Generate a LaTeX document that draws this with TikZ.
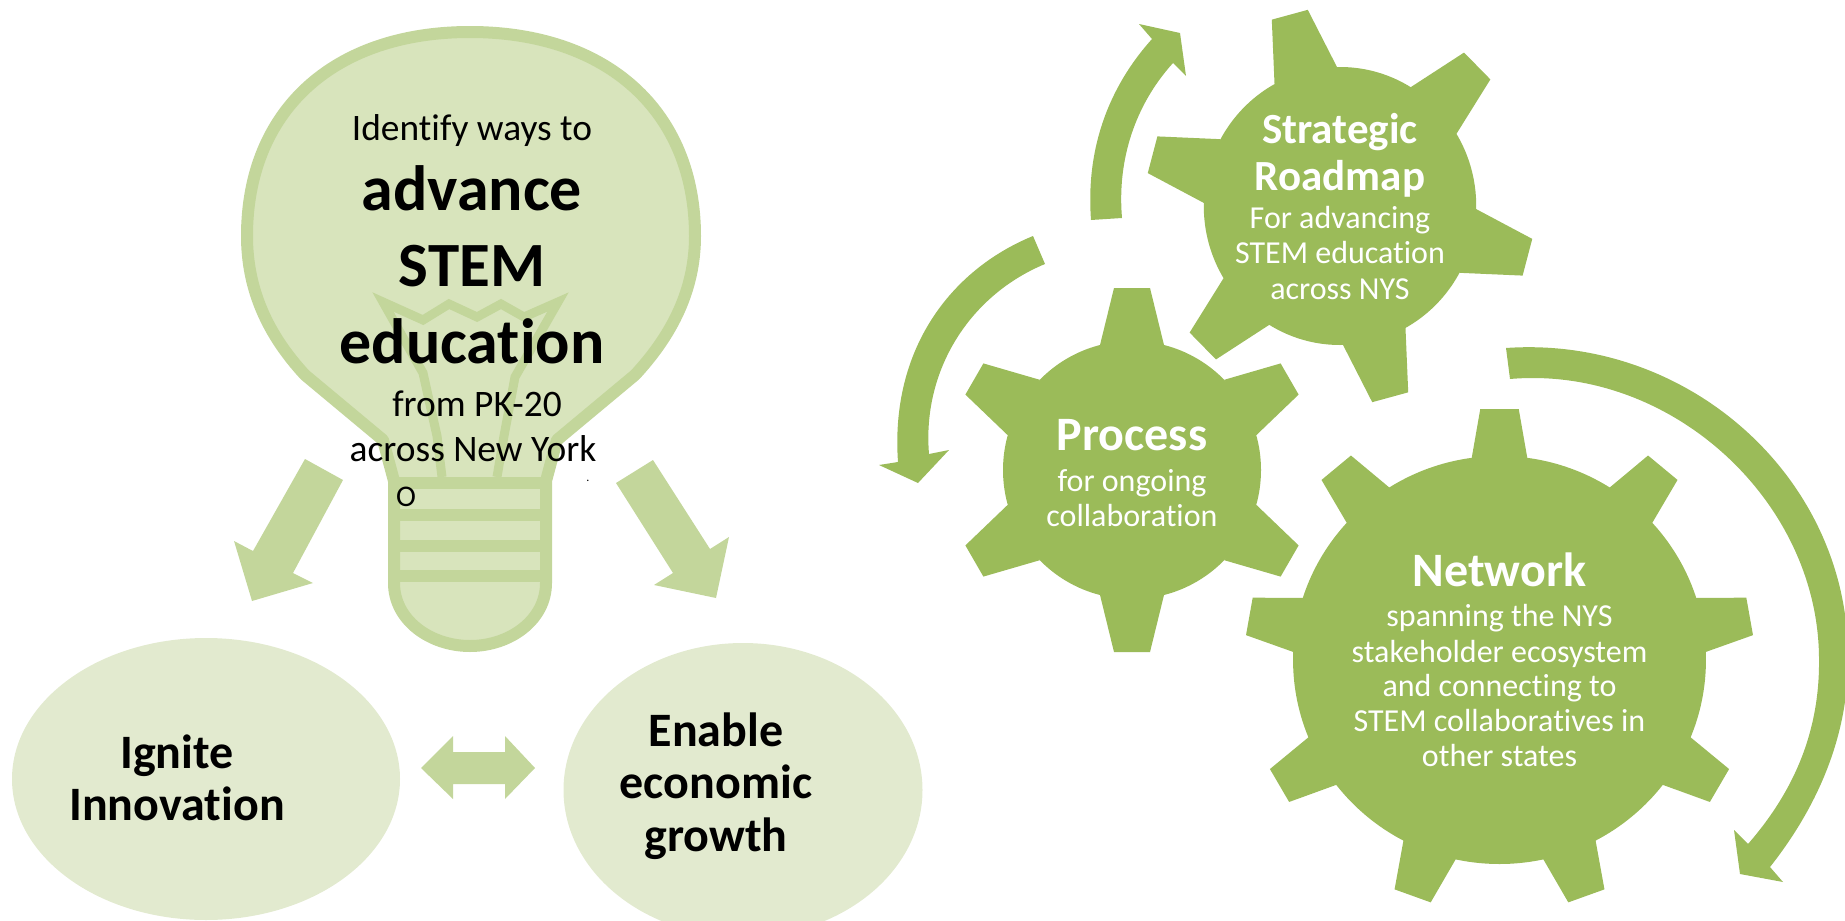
\documentclass[tikz,border=0pt]{standalone}
\usepackage{fontspec}
\setmainfont[Ligatures=NoCommon]{Carlito}
\usetikzlibrary{shapes.geometric}
\definecolor{gearfill}{HTML}{9BBB59}
\definecolor{bulbfill}{HTML}{D8E4BC}
\definecolor{bulbline}{HTML}{C3D69B}
\definecolor{ovalfill}{HTML}{E2EACF}
\tikzset{
    lineA/.style={anchor=base,inner sep=0pt,yshift=-2pt,font=\fontsize{#1}{#1}\selectfont},
    lineB/.style={anchor=base,inner sep=0pt,yshift=-2pt,font=\fontsize{#1}{#1}\selectfont\bfseries},
    whiteA/.style={lineA=#1,text=white},
    whiteB/.style={lineB=#1,text=white},
    oval/.style={ellipse,fill=ovalfill,inner sep=0pt}
}
% gear: centre, rotation, teeth, root radius, base y, tip y, base half width, tip half width, xscale
\newcommand{\drawgear}[9]{
    \begin{scope}[shift={(#1)},xscale=#9]
    \foreach \k in {1,...,#3} {
        \fill[gearfill,rotate=#2+(\k-1)*360/#3] (-#7,-#5) -- (-#8,-#6) -- (#8,-#6) -- (#7,-#5) -- cycle;
    }
    \fill[gearfill] (0,0) circle (#4);
    \end{scope}
}
\begin{document}
\begin{tikzpicture}[x=1pt,y=-1pt]
        \useasboundingbox (0,0) rectangle (1845,921);
        %% Ovals
        \node[oval,minimum width=388,minimum height=282] (ignite) at (206,779) {};
        \node[oval,minimum width=359,minimum height=294] (enable) at (743,790) {};
        %% Bulb
        \draw[fill=bulbfill,draw=bulbline,line width=12pt,line join=round] (470,32)
            .. controls (332,32) and (247,112) .. (247,236)
            .. controls (247,290) and (268,335) .. (305,375) -- (383,440) -- (394,481) -- (394,583)
            .. controls (394,620) and (430,646) .. (470,646)
            .. controls (510,646) and (546,620) .. (546,583) -- (546,481) -- (557,440) -- (635,375)
            .. controls (672,335) and (695,290) .. (695,236)
            .. controls (695,112) and (608,32) .. (470,32) -- cycle;
        \foreach \y in {483,515,546,576} {
            \draw[bulbline,line width=12pt] (394,\y) -- (546,\y);
        }
        \draw[bulbline,line width=9pt,miter limit=10] (442,477) -- (437,436) -- (423,373) -- (383,302)
            -- (423,320) -- (449,304) -- (477,317) -- (501,304) -- (524,317) -- (558,302)
            -- (515,377) -- (504,436) -- (497,477);
        %% Block arrows
        \fill[bulbline] (305,459) -- (343,480) -- (293,573) -- (313,583) -- (252,601) -- (234,541) -- (253,551) -- cycle;
        \fill[bulbline] (653,460) -- (616,483) -- (673,573) -- (654,585) -- (716,598) -- (729,537) -- (710,549) -- cycle;
        \fill[bulbline] (421,768) -- (453,736) -- (453,752) -- (505,752) -- (505,736) -- (535,768)
            -- (505,799) -- (505,784) -- (453,784) -- (453,799) -- cycle;
        %% Bulb text
        \node[lineA=37.4] (identify) at (472,138) {Identify ways to};
        \node[lineB=64] (advance) at (472,208) {advance};
        \node[lineB=63] (stem) at (472,284) {STEM};
        \node[lineB=64] (education) at (472,361) {education};
        \node[lineA=37.4] (from) at (477,414) {from PK-20};
        \node[lineA=37.4] (across) at (473,459) {across New York};
        \node[lineA=30] (letter) at (406,504) {O};
        \node[lineA=12] (dot) at (588,479) {.};
        %% Oval text
        \node[lineB=48] (igniteA) at (177,766) {Ignite};
        \node[lineB=48] (igniteB) at (177,818) {Innovation};
        \node[lineB=48] (enableA) at (716,744) {Enable};
        \node[lineB=48] (enableB) at (716,796) {economic};
        \node[lineB=48] (enableC) at (716,849) {growth};
        %% Gears
        \coordinate (road) at (1340,206);
        \coordinate (proc) at (1132,470);
        \coordinate (netw) at (1499.5,660);
        \drawgear{road}{15}{6}{139}{135}{198}{33}{19}{0.98}
        \drawgear{proc}{0}{6}{129}{125}{182}{32}{18}{1}
        \drawgear{netw}{0}{9}{204}{199}{251}{28}{19}{1.012}
        %% Round arrows
        \fill[gearfill] (1091,220) .. controls (1085,140) and (1115,80) .. (1152,39) -- (1139,24) -- (1180,33) -- (1186,76)
            -- (1173,63) .. controls (1135,105) and (1117,160) .. (1122,218) -- cycle;
        \fill[gearfill] (1033,236) .. controls (950,270) and (890,350) .. (898,462) -- (879,465) -- (918,483) -- (949,450)
            -- (929,454) .. controls (922,370) and (970,295) .. (1045,264) -- cycle;
        \fill[gearfill] (1506,348) .. controls (1690,335) and (1850,480) .. (1848,660)
            .. controls (1848,740) and (1815,810) .. (1770,867) -- (1783,882) -- (1740,874) -- (1734,830) -- (1748,844)
            .. controls (1795,790) and (1820,730) .. (1819,658)
            .. controls (1818,500) and (1670,365) .. (1510,379) -- cycle;
        %% Gear text
        \node[whiteB=43] (roadA) at (1340,141) {Strategic};
        \node[whiteB=43] (roadB) at (1340,188) {Roadmap};
        \node[whiteA=32] (roadC) at (1340,226) {For advancing};
        \node[whiteA=32] (roadD) at (1340,261.5) {STEM education};
        \node[whiteA=32] (roadE) at (1340,297) {across NYS};
        \node[whiteB=48] (procA) at (1132,448) {Process};
        \node[whiteA=32] (procB) at (1132,489) {for ongoing};
        \node[whiteA=32] (procC) at (1132,524) {collaboration};
        \node[whiteB=48] (netwA) at (1499.5,584.4) {Network};
        \node[whiteA=32] (netwB) at (1499.5,624) {spanning the NYS};
        \node[whiteA=32] (netwC) at (1499.5,660) {stakeholder ecosystem};
        \node[whiteA=32] (netwD) at (1499.5,694) {and connecting to};
        \node[whiteA=32] (netwE) at (1499.5,729.6) {STEM collaboratives in};
        \node[whiteA=32] (netwF) at (1499.5,764.6) {other states};
    \end{tikzpicture}
\end{document}
